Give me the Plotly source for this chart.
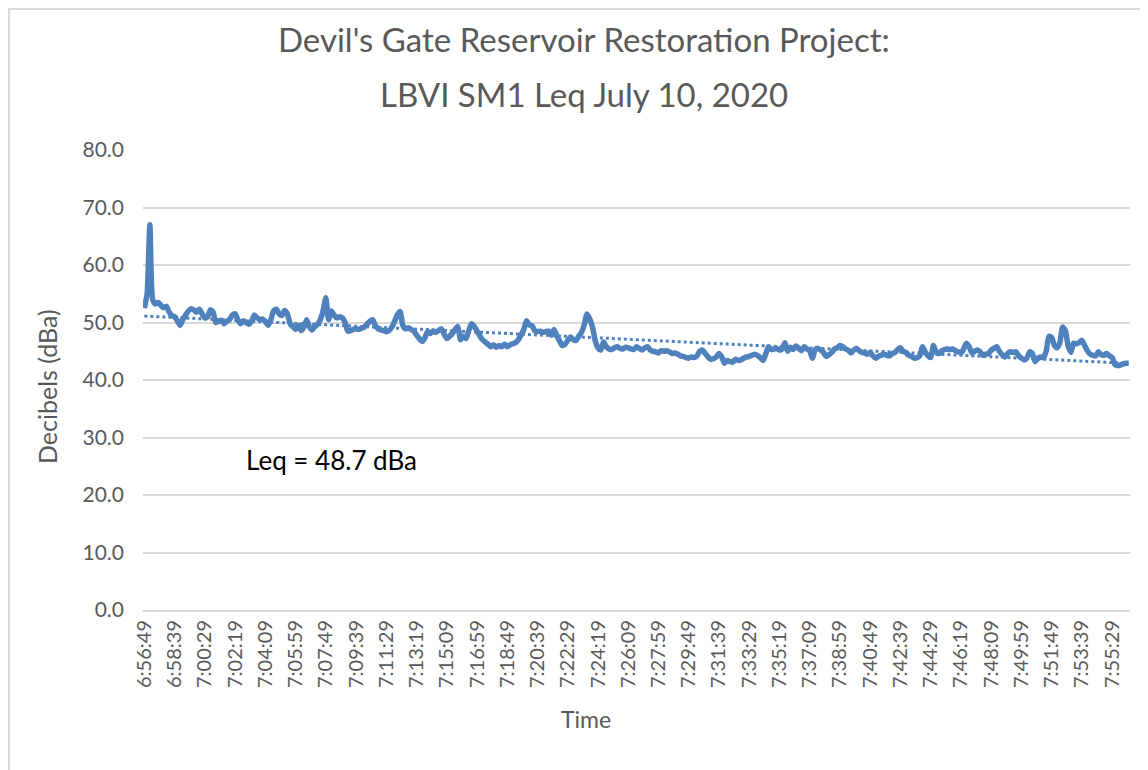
import datetime as dt
import numpy as np
import plotly.graph_objects as go

# 10-second Leq readings (dBa), starting 6:56:49
leq_values = [
    52.5, 55.0, 67.0, 54.0, 53.2, 53.5, 53.0, 52.6, 52.8, 51.8,
    51.2, 51.0, 50.3, 49.5, 50.5, 51.3, 52.0, 52.4, 52.2, 51.8,
    52.3, 51.5, 50.8, 51.0, 52.2, 51.8, 50.0, 50.2, 50.4, 49.8,
    50.2, 50.5, 51.3, 51.5, 50.5, 49.8, 50.3, 50.0, 49.7, 50.2,
    51.3, 50.8, 50.5, 50.6, 50.2, 49.5, 50.5, 52.0, 52.3, 51.5,
    51.2, 52.1, 51.5, 49.8, 49.3, 48.8, 49.5, 48.6, 49.2, 50.5,
    49.3, 48.7, 49.3, 49.7, 50.5, 52.0, 54.3, 50.5, 52.0, 51.3,
    50.8, 51.0, 50.8, 50.0, 48.5, 48.6, 48.8, 48.9, 48.8, 49.0,
    49.2, 49.7, 50.2, 50.5, 49.5, 48.9, 48.7, 48.6, 48.4, 48.6,
    49.2, 50.2, 51.3, 51.9, 49.5, 48.9, 49.1, 48.8, 48.5, 47.8,
    47.2, 46.7, 47.3, 48.4, 48.1, 48.5, 48.3, 48.6, 48.9, 48.0,
    47.2, 47.6, 48.1, 48.8, 49.3, 47.0, 47.6, 47.2, 48.6, 49.8,
    49.3, 48.5, 47.7, 47.0, 46.6, 46.2, 45.8, 46.1, 45.7, 46.0,
    45.8, 46.2, 45.8, 46.1, 46.3, 46.5, 47.0, 47.8, 48.8, 50.3,
    49.6, 49.4, 48.6, 48.4, 48.5, 48.3, 48.4, 48.5, 47.8, 48.8,
    47.7, 46.8, 46.0, 46.2, 46.9, 47.5, 47.0, 46.9, 47.6, 48.3,
    49.6, 51.5, 50.6, 49.2, 46.8, 45.6, 45.2, 46.6, 45.8, 45.4,
    45.3, 45.6, 45.8, 45.5, 45.4, 45.7, 45.6, 45.4, 45.3, 45.8,
    45.5, 45.2, 45.6, 45.8, 45.2, 45.0, 44.9, 44.7, 45.1, 45.0,
    45.1, 44.9, 44.6, 44.7, 44.5, 44.2, 44.1, 43.9, 43.8, 44.0,
    43.9, 44.2, 45.0, 45.2, 44.6, 44.0, 43.6, 43.7, 44.0, 44.6,
    44.0, 42.9, 43.4, 43.2, 43.1, 43.6, 43.4, 43.5, 43.8, 44.0,
    44.1, 44.3, 44.5, 44.3, 43.9, 43.4, 44.5, 45.8, 45.3, 45.4,
    45.5, 45.2, 45.4, 46.5, 45.0, 45.7, 45.3, 45.9, 45.5, 45.1,
    45.8, 45.4, 45.1, 43.8, 45.3, 45.5, 45.2, 44.8, 44.1, 44.4,
    44.8, 45.4, 45.6, 46.0, 45.8, 45.4, 45.2, 44.7, 45.2, 45.5,
    45.1, 44.8, 44.7, 44.5, 44.8, 44.2, 43.8, 44.1, 44.3, 44.5,
    44.3, 44.2, 44.6, 44.8, 45.3, 45.6, 45.0, 44.8, 44.3, 44.1,
    43.8, 43.9, 44.2, 45.8, 44.9, 44.2, 43.9, 46.0, 44.9, 44.6,
    45.1, 45.3, 45.4, 45.3, 45.4, 45.1, 44.9, 44.7, 45.4, 46.4,
    45.8, 44.7, 45.0, 45.2, 44.9, 44.3, 44.5, 44.6, 45.2, 45.5,
    45.8, 45.0, 44.4, 44.0, 44.6, 44.9, 44.8, 44.9, 44.2, 43.8,
    43.5, 43.8, 44.9, 44.6, 43.2, 43.8, 44.0, 43.9, 45.0, 47.6,
    47.4, 46.0, 45.6, 46.5, 49.2, 48.6, 45.9, 44.8, 46.4, 46.3,
    46.5, 46.9, 46.0, 45.1, 44.5, 44.3, 44.2, 44.9, 44.4, 44.3,
    44.6, 44.2, 43.9, 42.7, 42.5, 42.6, 42.8, 42.9, 42.9,
]

start_time = dt.datetime(2020, 7, 10, 6, 56, 49)
time_labels = [
    (start_time + dt.timedelta(seconds=10 * i)).strftime("%-H:%M:%S")
    for i in range(len(leq_values))
]
tick_labels = time_labels[::11]

y_ticks = [0, 10, 20, 30, 40, 50, 60, 70, 80]

title_line1 = "Devil's Gate Reservoir Restoration Project:"
title_line2 = "LBVI SM1 Leq July 10, 2020"
leq_note = "Leq = 48.7 dBa"

# Linear trendline (as in Excel)
idx = np.arange(len(leq_values))
slope, intercept = np.polyfit(idx, np.array(leq_values), 1)
trend = slope * idx + intercept

line_color = "#4F81BD"
text_color = "#595959"
grid_color = "#D9D9D9"
font_family = "Lato"

# page offset (browser body margin)
OFF = 8
W, H = 1148, 770
L, R, T, B = 143 - OFF, 1130 - OFF, 150 - OFF, 610 - OFF
pw, ph = R - L, B - T


def px(x):
    return (x - OFF - L) / pw


def py(y):
    return (B - (y - OFF)) / ph


fig = go.Figure()
fig.add_trace(go.Scatter(
    x=time_labels, y=trend, mode="lines",
    line=dict(color=line_color, width=3, dash="dot"),
    hoverinfo="skip", showlegend=False,
))
fig.add_trace(go.Scatter(
    x=time_labels, y=leq_values, mode="lines",
    line=dict(color=line_color, width=5.5, shape="spline", smoothing=0.6),
    showlegend=False,
))

fig.update_layout(
    width=W, height=H,
    margin=dict(l=L, r=W - R, t=T, b=H - B, autoexpand=False),
    paper_bgcolor="white", plot_bgcolor="white",
    font=dict(family=font_family, color=text_color, size=21),
    showlegend=False,
    xaxis=dict(
        type="category",
        tickmode="array", tickvals=tick_labels, ticktext=tick_labels,
        tickangle=-90, tickfont=dict(size=20, color=text_color),
        showgrid=False, showline=True, linecolor=grid_color, linewidth=2,
        ticks="", ticklabelstandoff=0,
        range=[-0.5, len(leq_values) - 0.5],
        automargin=False,
    ),
    yaxis=dict(
        range=[0, 80], tickvals=y_ticks, tickformat=".1f",
        tickfont=dict(size=21, color=text_color),
        showgrid=True, gridcolor=grid_color, gridwidth=2,
        zeroline=False, showline=False, ticks="",
        ticklabelstandoff=18, automargin=False,
    ),
    annotations=[
        dict(text=title_line1, x=px(584), y=py(39), xref="paper", yref="paper",
             showarrow=False, font=dict(size=33, color=text_color),
             xanchor="center", yanchor="middle"),
        dict(text=title_line2, x=px(584), y=py(94), xref="paper", yref="paper",
             showarrow=False, font=dict(size=33, color=text_color),
             xanchor="center", yanchor="middle"),
        dict(text="Decibels (dBa)", x=px(47), y=py(387), xref="paper", yref="paper",
             showarrow=False, textangle=-90, font=dict(size=25, color=text_color),
             xanchor="center", yanchor="middle"),
        dict(text="Time", x=px(586), y=py(719), xref="paper", yref="paper",
             showarrow=False, font=dict(size=23, color=text_color),
             xanchor="center", yanchor="middle"),
        dict(text=leq_note, x=px(331), y=py(460), xref="paper", yref="paper",
             showarrow=False, font=dict(size=26, color="#000000"),
             xanchor="center", yanchor="middle"),
    ],
    shapes=[
        dict(type="rect", xref="paper", yref="paper",
             x0=px(9), x1=px(1200), y0=py(820), y1=py(9),
             line=dict(color=grid_color, width=2), fillcolor="rgba(0,0,0,0)",
             layer="below"),
    ],
)

fig.write_html("out.html")
